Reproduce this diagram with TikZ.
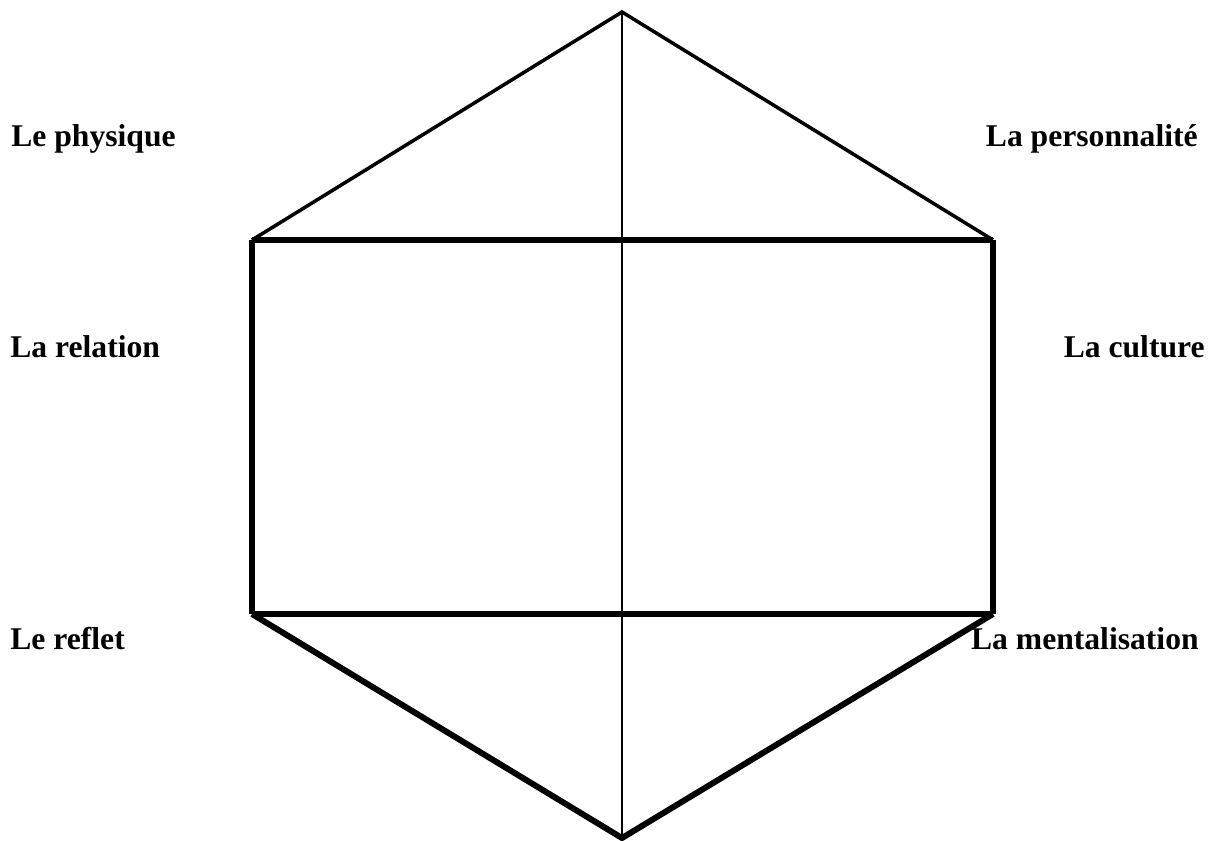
\documentclass[tikz,border=0pt]{standalone}
\usepackage{fontspec}
\setmainfont{Liberation Serif}
\begin{document}
\begin{tikzpicture}[x=0.02cm,y=-0.02cm,
    label/.style={font=\fontsize{18}{21}\selectfont\bfseries, inner sep=0pt},
    axe/.style={line width=1.3pt},
    pente/.style={line width=2pt},
    bord/.style={line width=3.4pt}]
        \useasboundingbox (0,0) rectangle (1215,841);

        % Sommets
        \coordinate (haut) at (622,12);
        \coordinate (hg) at (252,240);
        \coordinate (hd) at (993,240);
        \coordinate (bg) at (252,614);
        \coordinate (bd) at (993,614);
        \coordinate (bas) at (622,838);

        % Axe central
        \draw[axe] (haut) -- (bas);

        % Triangle du haut
        \draw[pente] (hg) -- (haut) -- (hd);

        % Rectangle
        \draw[bord] (hg) -- (hd);
        \draw[bord] (bg) -- (bd);
        \draw[bord] (hg) -- (bg);
        \draw[bord] (hd) -- (bd);

        % Triangle du bas
        \draw[bord] (bg) -- (bas) -- (bd);

        % Etiquettes
        \node[label, anchor=base west] (physique) at (11,147) {Le physique};
        \node[label, anchor=base east] (personnalite) at (1198,147) {La personnalité};
        \node[label, anchor=base west] (relation) at (10,358) {La relation};
        \node[label, anchor=base east] (culture) at (1205,358) {La culture};
        \node[label, anchor=base west] (reflet) at (10,649) {Le reflet};
        \node[label, anchor=base east] (mentalisation) at (1199,649) {La mentalisation};
\end{tikzpicture}
\end{document}
